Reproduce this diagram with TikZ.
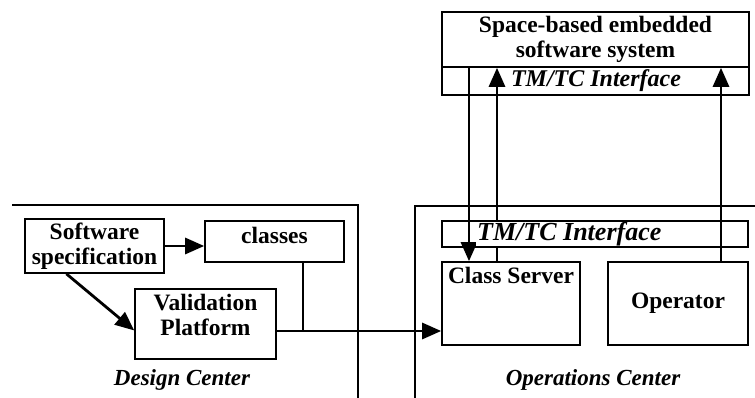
\documentclass[tikz,border=0pt]{standalone}
\usepackage{fontspec}
\setmainfont{Liberation Serif}
\usetikzlibrary{arrows.meta,calc}
\begin{document}
\begin{tikzpicture}[x=1pt,y=-1pt,
  box/.style={draw,line width=1.6pt,inner sep=0pt,align=center},
  bt/.style={font=\fontsize{23.5}{25}\selectfont\bfseries},
  it/.style={font=\fontsize{23}{25}\selectfont\bfseries\itshape},
  arr/.style={line width=2.8pt,-{Triangle[length=19pt,width=16pt]}},
  ln/.style={line width=2.8pt},
  frame/.style={line width=1.6pt}]
\useasboundingbox (0,0) rectangle (755,398);
% frames
\draw[frame] (12,205) -- (358,205) -- (358,398);
\draw[frame] (415,398) -- (415,206) -- (755,206);
% top system
\node[box,bt,minimum width=307pt,minimum height=55pt] (sys) at (595.5,39.5) {Space-based embedded\\software system};
\node[box,minimum width=307pt,minimum height=28pt] (tm1) at (595.5,81) {};
% design center
\node[box,bt,minimum width=139pt,minimum height=54pt] (spec) at (94.5,246) {Software\\specification};
\node[box,minimum width=139pt,minimum height=41pt,
  label={[bt,anchor=north,yshift=-3pt]north:classes}] (cls) at (274.5,241.5) {};
\node[box,bt,minimum width=141pt,minimum height=70pt] (val) at (205.5,324) {Validation\\Platform\\[-6pt]};
\node[it] (dc) at (182,380) {Design Center};
% operations center
\node[box,minimum width=138pt,minimum height=83pt,
  label={[bt,anchor=north,yshift=-2pt]north:Class Server}] (cs) at (511,303.5) {};
\node[box,bt,minimum width=140pt,minimum height=83pt] (op) at (678,303.5) {Operator};
\node[it] (oc) at (593,380) {Operations Center};
% connectors
\draw[arr] (spec.east) -- (spec.east -| cls.west);
\draw[arr] ($(spec.south west)!0.3!(spec.south east)$) -- ($(val.north west)!0.59!(val.south west)$);
\coordinate (j) at (303,331);
\draw[ln] (j |- cls.south) -- (j);
\draw[arr] (val.east |- j) -- (cs.west |- j);
\coordinate (dn) at (469,0);
\coordinate (up) at (497,0);
\coordinate (opx) at (721,0);
\draw[arr] (dn |- sys.south) -- (dn |- cs.north);
\draw[arr] (up |- cs.north) -- (up |- sys.south);
\draw[arr] (opx |- op.north) -- (opx |- sys.south);
% interface labels (over the lines)
\node[it,font=\fontsize{24}{25}\selectfont\bfseries\itshape,inner sep=1pt] (tm1t) at (596,81) {TM/TC Interface};
\node[it,font=\fontsize{26}{26}\selectfont\bfseries\itshape,fill=white,inner sep=1pt,anchor=west] (tm2t) at (476,234) {TM/TC Interface};
\node[box,minimum width=306pt,minimum height=26pt] (tm2) at (595,234) {};
\end{tikzpicture}
\end{document}
